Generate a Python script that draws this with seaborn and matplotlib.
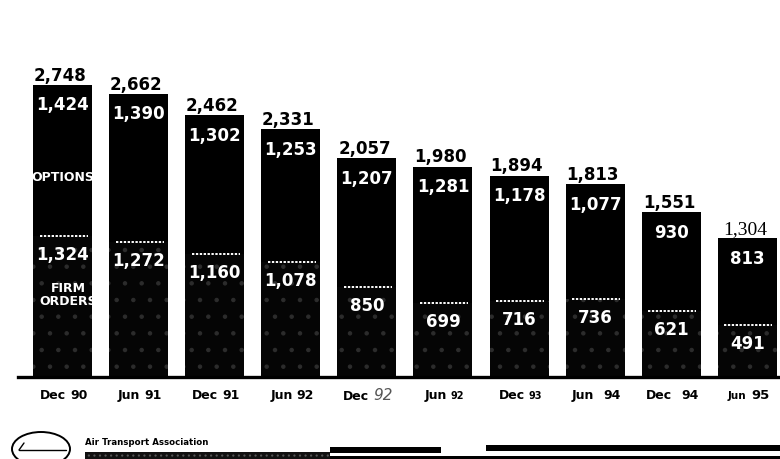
import matplotlib
matplotlib.use("Agg")
import matplotlib.pyplot as plt
import seaborn as sns
import pandas as pd
from matplotlib.patches import Ellipse, Rectangle
from matplotlib.offsetbox import TextArea, HPacker, AnnotationBbox

# Aircraft orders outstanding, by half-year
months = ["Dec", "Jun", "Dec", "Jun", "Dec", "Jun", "Dec", "Jun", "Dec", "Jun"]
years = ["90", "91", "91", "92", "92", "92", "93", "94", "94", "95"]
totals = [2748, 2662, 2462, 2331, 2057, 1980, 1894, 1813, 1551, 1304]
options = [1424, 1390, 1302, 1253, 1207, 1281, 1178, 1077, 930, 813]
firm_orders = [1324, 1272, 1160, 1078, 850, 699, 716, 736, 621, 491]

df = pd.DataFrame({
    "slot": list(range(len(totals))),
    "total": totals,
    "options": options,
    "firm": firm_orders,
})

sns.set_style("white")
plt.rcParams["font.family"] = ["DejaVu Sans"]
plt.rcParams["hatch.linewidth"] = 0.8

fig = plt.figure(figsize=(7.8, 4.6), dpi=100)
ax = fig.add_axes([18 / 780, (460 - 378) / 460, 762 / 780, 358 / 460])

bar_w = 0.775
# full stack (options on top of firm orders)
sns.barplot(data=df, x="slot", y="total", color="black", saturation=1,
            width=bar_w, linewidth=0, ax=ax)
# firm orders segment, lightly speckled
sns.barplot(data=df, x="slot", y="firm", color="#050505", saturation=1,
            width=bar_w, linewidth=0, edgecolor="#2c2c2c", hatch=".", ax=ax)

ax.set_xlim(-0.585, 9.43)
ax.set_ylim(0, 3368)
ax.set_xlabel("")
ax.set_ylabel("")
ax.set_yticks([])
ax.set_xticks([])
for s in ["top", "right", "left"]:
    ax.spines[s].set_visible(False)
ax.spines["bottom"].set_linewidth(2.4)
ax.spines["bottom"].set_color("black")

# dotted white divider at the top of each firm-order segment
for i, f in enumerate(df["firm"]):
    ax.hlines(f, i - 0.30, i + 0.33, colors="white", linestyles=(0, (1.2, 0.8)),
              linewidth=1.4, zorder=5)

for i, row in df.iterrows():
    if i == len(df) - 1:
        tot_font = dict(family="Liberation Serif", fontsize=14, fontweight="normal")
    else:
        tot_font = dict(fontsize=12, fontweight="bold")
    ax.annotate(f"{row['total']:,}", (i - 0.03, row["total"]),
                xytext=(0, 1), textcoords="offset points",
                ha="center", va="bottom", color="black", **tot_font)
    ax.annotate(f"{row['options']:,}", (i, row["total"]),
                xytext=(0, -14), textcoords="offset points",
                ha="center", va="center", color="white",
                fontsize=12, fontweight="bold", zorder=6)
    ax.annotate(f"{row['firm']:,}", (i, row["firm"]),
                xytext=(0, -13), textcoords="offset points",
                ha="center", va="center", color="white",
                fontsize=12, fontweight="bold", zorder=6)

ax.text(0, 1890, "OPTIONS", ha="center", va="center", color="white",
        fontsize=9, fontweight="bold", zorder=6)
ax.text(0.08, 780, "FIRM\nORDERS", ha="center", va="center", color="white",
        fontsize=9, fontweight="bold", linespacing=1.05, zorder=6)

# period labels under the bars, month and year set separately
year_style = [
    dict(fontsize=9, fontweight="bold", color="black"),
    dict(fontsize=9, fontweight="bold", color="black"),
    dict(fontsize=9, fontweight="bold", color="black"),
    dict(fontsize=9, fontweight="bold", color="black"),
    dict(fontsize=11, fontweight="light", fontstyle="italic", color="#555555"),
    dict(fontsize=7, fontweight="bold", color="black"),
    dict(fontsize=7, fontweight="bold", color="black"),
    dict(fontsize=9, fontweight="bold", color="black"),
    dict(fontsize=9, fontweight="bold", color="black"),
    dict(fontsize=9.5, fontweight="bold", color="black"),
]
month_size = [9, 9, 9, 9, 9, 9, 9, 9, 9, 7.5]
gaps = [3, 3, 3, 3, 3, 3, 3, 7, 7, 4]
for i, (m, y) in enumerate(zip(months, years)):
    box = HPacker(children=[
        TextArea(m, textprops=dict(fontsize=month_size[i], fontweight="bold", color="black")),
        TextArea(y, textprops=year_style[i]),
    ], align="baseline", pad=0, sep=gaps[i])
    ab = AnnotationBbox(box, (i, 0), xybox=(1, -12.5), boxcoords="offset points",
                        frameon=False, box_alignment=(0.5, 0.5), annotation_clip=False)
    ax.add_artist(ab)

# footer band
fx = fig.add_axes([0, 0, 1, 1], zorder=-1)
fx.set_xlim(0, 780)
fx.set_ylim(460, 0)
fx.axis("off")
fx.add_patch(Ellipse((41, 450), 58, 34, fill=False, edgecolor="black", linewidth=1.4))
fx.plot([19, 66], [451, 451], color="black", linewidth=1.0)
fx.plot([19, 24], [451, 444], color="black", linewidth=1.0)
fx.text(85, 443, "Air Transport Association", fontsize=6.2, fontweight="bold",
        va="center", ha="left", color="black")
fx.add_patch(Rectangle((85, 453), 245, 7, facecolor="#111111", edgecolor="#555555",
                       linewidth=0, hatch="..."))
fx.add_patch(Rectangle((330, 448), 111, 6, facecolor="black", linewidth=0))
fx.add_patch(Rectangle((330, 457), 450, 3, facecolor="black", linewidth=0))
fx.add_patch(Rectangle((486, 446), 294, 6, facecolor="black", linewidth=0))

fig.savefig("out.png", dpi=100, facecolor="white")
